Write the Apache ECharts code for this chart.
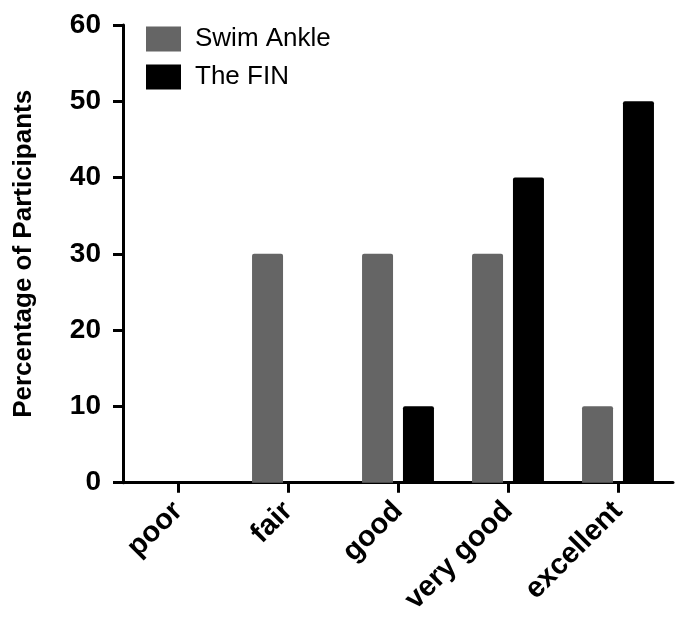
<!DOCTYPE html>
<html>
<head>
<meta charset="utf-8">
<script src="https://cdn.jsdelivr.net/npm/echarts@6/dist/echarts.min.js"></script>
<style>
html,body{margin:0;padding:0;background:#fff;}
#c{width:679px;height:617px;}
</style>
</head>
<body>
<div id="c"></div>
<script>
const categories = ['poor', 'fair', 'good', 'very good', 'excellent'];
const swimAnkle = [0, 30, 30, 30, 10];
const theFin = [0, 0, 10, 40, 50];
const yTicks = { min: 0, max: 60, interval: 10 };

const FONT = 'Arial, "Liberation Sans", Helvetica, sans-serif';
const chart = echarts.init(document.getElementById('c'), null, { renderer: 'canvas' });
chart.setOption({
  backgroundColor: '#ffffff',
  animation: false,
  textStyle: { fontFamily: FONT },
  grid: { left: 123, right: 6, top: 25, bottom: 134, containLabel: false },
  legend: {
    orient: 'vertical',
    left: 146, top: 26,
    padding: 0,
    itemWidth: 35, itemHeight: 25, itemGap: 12,
    icon: 'rect',
    textStyle: { fontSize: 26, color: '#000', fontFamily: FONT, padding: [0, 0, 0, 9] },
    data: ['Swim Ankle', 'The FIN']
  },
  xAxis: {
    type: 'category',
    data: categories,
    axisLine: { lineStyle: { color: '#000', width: 3 } },
    axisTick: { show: true, alignWithLabel: true, length: 10, lineStyle: { color: '#000', width: 3 } },
    axisLabel: { rotate: 45, fontSize: 29, fontWeight: 'bold', color: '#000', margin: 24, fontFamily: FONT, interval: 0 }
  },
  yAxis: {
    type: 'value',
    min: yTicks.min, max: yTicks.max, interval: yTicks.interval,
    name: 'Percentage of Participants',
    nameLocation: 'middle',
    nameGap: 86,
    nameTextStyle: { fontSize: 26, fontWeight: 'bold', color: '#000', fontFamily: FONT },
    axisLine: { show: true, lineStyle: { color: '#000', width: 3 } },
    axisTick: { show: true, length: 10, lineStyle: { color: '#000', width: 3 } },
    axisLabel: { fontSize: 28, fontWeight: 'bold', color: '#000', margin: 22, fontFamily: FONT },
    splitLine: { show: false }
  },
  series: [
    { name: 'Swim Ankle', type: 'bar', data: swimAnkle, barWidth: 31, barGap: '32%',
      itemStyle: { color: '#656565', borderRadius: [2, 2, 0, 0] } },
    { name: 'The FIN', type: 'bar', data: theFin, barWidth: 31,
      itemStyle: { color: '#000000', borderRadius: [2, 2, 0, 0] } }
  ]
});
</script>
</body>
</html>
